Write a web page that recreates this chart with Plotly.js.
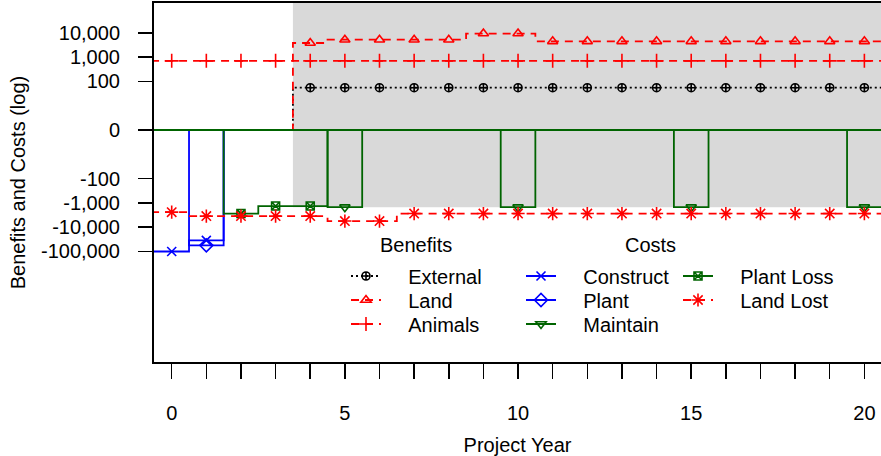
<!DOCTYPE html>
<html><head><meta charset="utf-8">
<script src="https://cdn.plot.ly/plotly-3.0.1.min.js"></script>
<style>html,body{margin:0;padding:0;background:#fff;overflow:hidden}#chart{width:881px;height:456px}</style>
</head><body><div id="chart"></div>
<script>
// ---- data ----
const years      = [0,1,2,3,4,5,6,7,8,9,10,11,12,13,14,15,16,17,18,19,20];
const external   = [0,0,0,0,55,55,55,55,55,55,55,55,55,55,55,55,55,55,55,55,55];
const land       = [0,0,0,0,3800,5200,5200,5200,5200,9300,9300,4450,4450,4450,4450,4450,4450,4450,4450,4450,4450];
const animals    = [700,700,700,700,700,700,700,700,700,700,700,700,700,700,700,700,700,700,700,700,700];
const construct  = [-100000,-35000,0,0,0,0,0,0,0,0,0,0,0,0,0,0,0,0,0,0,0];
const plant      = [0,-56000,0,0,0,0,0,0,0,0,0,0,0,0,0,0,0,0,0,0,0];
const maintain   = [0,0,0,0,0,-1500,0,0,0,0,-1500,0,0,0,0,-1500,0,0,0,0,-1500];
const plantLoss  = [0,0,-2750,-1350,-1350,0,0,0,0,0,0,0,0,0,0,0,0,0,0,0,0];
const landLost   = [-2400,-3500,-3500,-3500,-3500,-5600,-5600,-2750,-2750,-2750,-2750,-2750,-2750,-2750,-2750,-2750,-2750,-2750,-2750,-2750,-2750];
const yTickValues = [10000,1000,100,0,-100,-1000,-10000,-100000];
const yTickText   = ['10,000','1,000','100','0','-100','-1,000','-10,000','-100,000'];
const xTickLabelEvery = 5;
const groupTitles = ['Benefits','Costs'];

// signed log transform used by the chart's y axis
const tr = v => v === 0 ? 0 : Math.sign(v) * Math.log10(Math.abs(v));

const FONT = 'Liberation Sans, Arial, sans-serif';
const RED = '#FF0000', BLUE = '#0000FF', GREEN = '#006400';
const NB = '\u00a0\u00a0\u00a0\u00a0';

const series = [
  {name:'External',   v:external,  color:'#000000', dash:'2px,3px', symbol:'circle-cross-open', size:8,  col:0, row:0},
  {name:'Land',       v:land,      color:RED,  dash:'8px,6px', symbol:'triangle-up-open',   size:9,  col:0, row:1},
  {name:'Animals',    v:animals,   color:RED,  dash:'8px,6px', symbol:'cross-thin-open',    size:10, col:0, row:2},
  {name:'Construct',  v:construct, color:BLUE, dash:'solid',   symbol:'x-thin-open',        size:9,  col:1, row:0},
  {name:'Plant',      v:plant,     color:BLUE, dash:'solid',   symbol:'diamond-open',       size:10, col:1, row:1},
  {name:'Maintain',   v:maintain,  color:GREEN,dash:'solid',   symbol:'triangle-down-open', size:9,  col:1, row:2},
  {name:'Plant Loss', v:plantLoss, color:GREEN,dash:'solid',   symbol:'square-x-open',      size:8,  col:2, row:0},
  {name:'Land Lost',  v:landLost,  color:RED,  dash:'8px,6px', symbol:'asterisk-open',      size:11, col:2, row:1}
];

const W = 881, H = 456;
const M = {l:154, r:0, t:3, b:94};
const PW = W - M.l - M.r, PH = H - M.t - M.b;
const px2x = p => (p - M.l) / PW;
const py2y = p => (H - M.b - p) / PH;

const colLeft = [346, 521, 678];
const rowY = [276, 300, 324];

const traces = [];
const legends = {};
series.forEach((s, i) => {
  const ty = s.v.map(tr);
  // step line (steps at half years), padded to both plot edges
  traces.push({
    x: [years[0]-1].concat(years, [years[years.length-1]+1]),
    y: [ty[0]].concat(ty, [ty[ty.length-1]]),
    mode:'lines', line:{shape:'hvh', color:s.color, width:1.8, dash:s.dash},
    showlegend:false, hoverinfo:'skip'
  });
  // markers where the value is non-zero
  const mx = [], my = [];
  years.forEach((yr, k) => { if (s.v[k] !== 0) { mx.push(yr); my.push(ty[k]); } });
  traces.push({
    x: mx, y: my, mode:'markers',
    marker:{symbol:s.symbol, size:s.size, color:s.color, line:{color:s.color, width:1.6}},
    showlegend:false, name:s.name
  });
  // legend entry
  const lk = i === 0 ? 'legend' : 'legend' + (i+1);
  traces.push({
    x:[null], y:[null], mode:'lines+markers', name: NB + s.name, legend: lk,
    line:{color:s.color, width:1.8, dash:s.dash},
    marker:{symbol:s.symbol, size:s.size, color:s.color, line:{color:s.color, width:1.6}}
  });
  legends[lk] = {
    x: px2x(colLeft[s.col]), xanchor:'left',
    y: py2y(rowY[s.row]), yanchor:'middle',
    bgcolor:'rgba(0,0,0,0)', borderwidth:0,
    font:{family:FONT, size:20, color:'#000'},
    itemclick:false, itemdoubleclick:false
  };
});

// shaded region: from first benefit year to the right, down to the maintenance level
const firstBenefit = years[external.findIndex(v => v !== 0)];
const shadeBottom = tr(Math.min(...maintain.filter(v => v !== 0)));

const xTickVals = years.slice();
const xTickText = years.map(y => y % xTickLabelEvery === 0 ? String(y) : '');

const layout = Object.assign({
  width: W, height: H,
  margin: M,
  paper_bgcolor:'#fff', plot_bgcolor:'#fff',
  font:{family:FONT, size:20, color:'#000'},
  xaxis:{
    range:[-0.511, 20.48], tickmode:'array', tickvals:xTickVals, ticktext:xTickText,
    ticks:'outside', ticklen:15, tickwidth:1.5, tickcolor:'#000',
    showline:true, mirror:true, linecolor:'#000', linewidth:2,
    showgrid:false, zeroline:false, ticklabelstandoff:17,
    tickfont:{family:FONT, size:20, color:'#000'},
    title:{text:'Project Year', font:{family:FONT, size:20, color:'#000'}, standoff:15}
  },
  yaxis:{
    range:[-9.548, 5.226], tickmode:'array', tickvals:yTickValues.map(tr), ticktext:yTickText,
    ticks:'outside', ticklen:14, tickwidth:1.5, tickcolor:'#000',
    showline:true, mirror:false, linecolor:'#000', linewidth:2,
    showgrid:false, zeroline:false, ticklabelstandoff:14,
    tickfont:{family:FONT, size:20, color:'#000'},
    title:{text:'Benefits and Costs (log)', font:{family:FONT, size:20, color:'#000'}, standoff:10}
  },
  shapes:[{
    type:'rect', layer:'below', xref:'x', yref:'y',
    x0: firstBenefit - 0.5, x1: years[years.length-1] + 2,
    y0: shadeBottom, y1: 6,
    fillcolor:'#D9D9D9', line:{width:0}
  }],
  annotations:[
    {text:groupTitles[0], xref:'paper', yref:'paper', x:px2x(416), y:py2y(245), xanchor:'center', yanchor:'middle', showarrow:false, font:{family:FONT, size:20, color:'#000'}},
    {text:groupTitles[1], xref:'paper', yref:'paper', x:px2x(650), y:py2y(245), xanchor:'center', yanchor:'middle', showarrow:false, font:{family:FONT, size:20, color:'#000'}}
  ],
  showlegend:true
}, legends);

Plotly.newPlot('chart', traces, layout, {staticPlot:true, displayModeBar:false});
</script>
</body></html>
